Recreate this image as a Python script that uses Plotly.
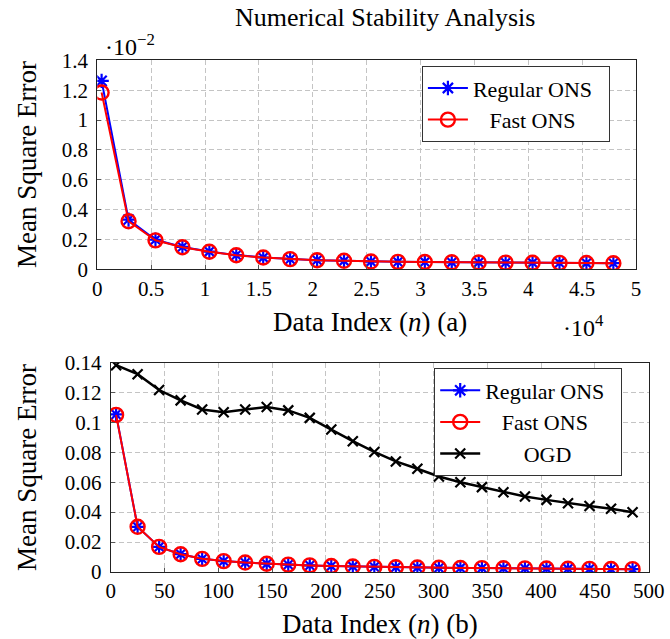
import plotly.graph_objects as go

# ---------------- data ----------------
# Top panel (a): data index and MSE values (in units of 1e-2)
top_index = [400, 2900, 5400, 7900, 10400, 12900, 15400, 17900, 20400, 22900,
             25400, 27900, 30400, 32900, 35400, 37900, 40400, 42900, 45400, 47900]
top_regular_ons = [1.262, 0.333, 0.198, 0.150, 0.119, 0.095, 0.079, 0.068, 0.061, 0.057,
                   0.052, 0.050, 0.049, 0.047, 0.046, 0.045, 0.044, 0.043, 0.042, 0.041]
top_fast_ons = [1.184, 0.322, 0.194, 0.148, 0.118, 0.094, 0.079, 0.068, 0.061, 0.057,
                0.052, 0.050, 0.049, 0.047, 0.046, 0.045, 0.044, 0.043, 0.042, 0.041]

# Bottom panel (b)
bot_index = [5, 25, 45, 65, 85, 105, 125, 145, 165, 185, 205, 225, 245,
             265, 285, 305, 325, 345, 365, 385, 405, 425, 445, 465, 485]
bot_regular_ons = [0.1053, 0.0302, 0.0168, 0.0119, 0.0088, 0.0073, 0.0063, 0.0055, 0.0049,
                   0.0044, 0.0040, 0.0037, 0.0034, 0.0032, 0.0030, 0.0028, 0.0027, 0.0026,
                   0.0025, 0.0024, 0.0023, 0.0022, 0.0021, 0.0020, 0.0019]
bot_fast_ons = [0.1050, 0.0302, 0.0168, 0.0119, 0.0088, 0.0073, 0.0063, 0.0055, 0.0049,
                0.0044, 0.0040, 0.0037, 0.0034, 0.0032, 0.0030, 0.0028, 0.0027, 0.0026,
                0.0025, 0.0024, 0.0023, 0.0022, 0.0021, 0.0020, 0.0019]
bot_ogd = [0.1382, 0.1322, 0.1216, 0.1147, 0.1086, 0.1068, 0.1086, 0.1102, 0.1080, 0.1030,
           0.0952, 0.0874, 0.0802, 0.0739, 0.0690, 0.0638, 0.0600, 0.0567, 0.0533, 0.0504,
           0.0482, 0.0459, 0.0441, 0.0423, 0.0399]

top_xticks = [0, 0.5, 1, 1.5, 2, 2.5, 3, 3.5, 4, 4.5, 5]
top_yticks = [0, 0.2, 0.4, 0.6, 0.8, 1, 1.2, 1.4]
bot_xticks = [0, 50, 100, 150, 200, 250, 300, 350, 400, 450, 500]
bot_yticks = [0, 0.02, 0.04, 0.06, 0.08, 0.1, 0.12, 0.14]

X_SCALE = 1e4  # top x axis shown in units of 10^4

# ---------------- figure ----------------
W, H = 670, 639
FONT = "Liberation Serif"
BLUE, RED, BLACK = "#0000ff", "#ff0000", "#000000"
NB = "\u00a0"

fig = go.Figure()

star = dict(symbol="asterisk-open", size=12, color=BLUE, line=dict(color=BLUE, width=2.2))
circ = dict(symbol="circle-open", size=14, color=RED, line=dict(color=RED, width=2.4))
cross = dict(symbol="x-thin-open", size=10, color=BLACK, line=dict(color=BLACK, width=2.2))

fig.add_trace(go.Scatter(x=[v / X_SCALE for v in top_index], y=top_regular_ons,
                         mode="lines+markers", name="Regular ONS" + NB * 2,
                         line=dict(color=BLUE, width=2), marker=star,
                         xaxis="x", yaxis="y", legend="legend"))
fig.add_trace(go.Scatter(x=[v / X_SCALE for v in top_index], y=top_fast_ons,
                         mode="lines+markers", name=NB * 3 + "Fast ONS",
                         line=dict(color=RED, width=2), marker=circ,
                         xaxis="x", yaxis="y", legend="legend"))

fig.add_trace(go.Scatter(x=bot_index, y=bot_regular_ons, mode="lines+markers",
                         name="Regular ONS" + NB * 2, line=dict(color=BLUE, width=2), marker=star,
                         xaxis="x2", yaxis="y2", legend="legend2"))
fig.add_trace(go.Scatter(x=bot_index, y=bot_fast_ons, mode="lines+markers",
                         name=NB * 3 + "Fast ONS", line=dict(color=RED, width=2), marker=circ,
                         xaxis="x2", yaxis="y2", legend="legend2"))
fig.add_trace(go.Scatter(x=bot_index, y=bot_ogd, mode="lines+markers",
                         name=NB * 7 + "OGD",
                         line=dict(color=BLACK, width=2.5), marker=cross,
                         xaxis="x2", yaxis="y2", legend="legend2"))

axis_common = dict(showline=True, linecolor="#222222", linewidth=1.2, mirror=True,
                   showgrid=True, gridcolor="#c4c4c4", gridwidth=1, griddash="5px,3px",
                   zeroline=False, ticks="inside", ticklen=4, tickcolor="#555555",
                   automargin=False,
                   tickfont=dict(family=FONT, size=21, color="black"))

def ann(text, x, y, size, xanchor="center", yanchor="middle", angle=0):
    return dict(text=text, x=x / W, y=1 - y / H, xref="paper", yref="paper",
                xanchor=xanchor, yanchor=yanchor, textangle=angle, showarrow=False,
                font=dict(family=FONT, size=size, color="black"))

fig.update_layout(
    template="none",
    width=W, height=H,
    margin=dict(l=0, r=0, t=0, b=0, pad=0, autoexpand=False),
    paper_bgcolor="white", plot_bgcolor="white",
    showlegend=True,
    xaxis=dict(domain=[97.3 / W, 636 / W], anchor="y", range=[0, 5],
               tickvals=top_xticks, **axis_common),
    yaxis=dict(domain=[1 - 269.3 / H, 1 - 60.3 / H], anchor="x", range=[0, 1.4],
               tickvals=top_yticks, ticklabelstandoff=4, **axis_common),
    xaxis2=dict(domain=[110.7 / W, 648.7 / W], anchor="y2", range=[0, 500],
                tickvals=bot_xticks, **axis_common),
    yaxis2=dict(domain=[1 - 572 / H, 1 - 362.5 / H], anchor="x2", range=[0, 0.14],
                tickvals=bot_yticks, ticklabelstandoff=4, **axis_common),
    legend=dict(x=421.7 / W, y=1 - 66 / H, xanchor="left", yanchor="top",
                bgcolor="white", bordercolor="#333333", borderwidth=1.2,
                font=dict(family=FONT, size=22, color="black"), itemwidth=40,
                tracegroupgap=0),
    legend2=dict(x=434 / W, y=1 - 368.3 / H, xanchor="left", yanchor="top",
                 bgcolor="white", bordercolor="#333333", borderwidth=1.2,
                 font=dict(family=FONT, size=22, color="black"), itemwidth=40,
                 tracegroupgap=0),
    annotations=[
        ann("Numerical Stability Analysis", 385, 18, 26),
        ann("Mean Square Error", 27, 165, 27, angle=-90),
        ann("Mean Square Error", 27, 468, 27, angle=-90),
        ann("Data Index (<i>n</i>) (a)", 370, 322, 27),
        ann("Data Index (<i>n</i>) (b)", 380, 624, 27),
        ann("\u00b710<sup>\u22122</sup>", 103, 45, 24, xanchor="left"),
        ann("\u00b710<sup>4</sup>", 561, 326, 24, xanchor="left"),
    ],
)

fig.write_html("out.html",
               config={"displayModeBar": False},
               post_script="document.body.style.margin='0';"
                           "document.body.style.overflow='hidden';")
